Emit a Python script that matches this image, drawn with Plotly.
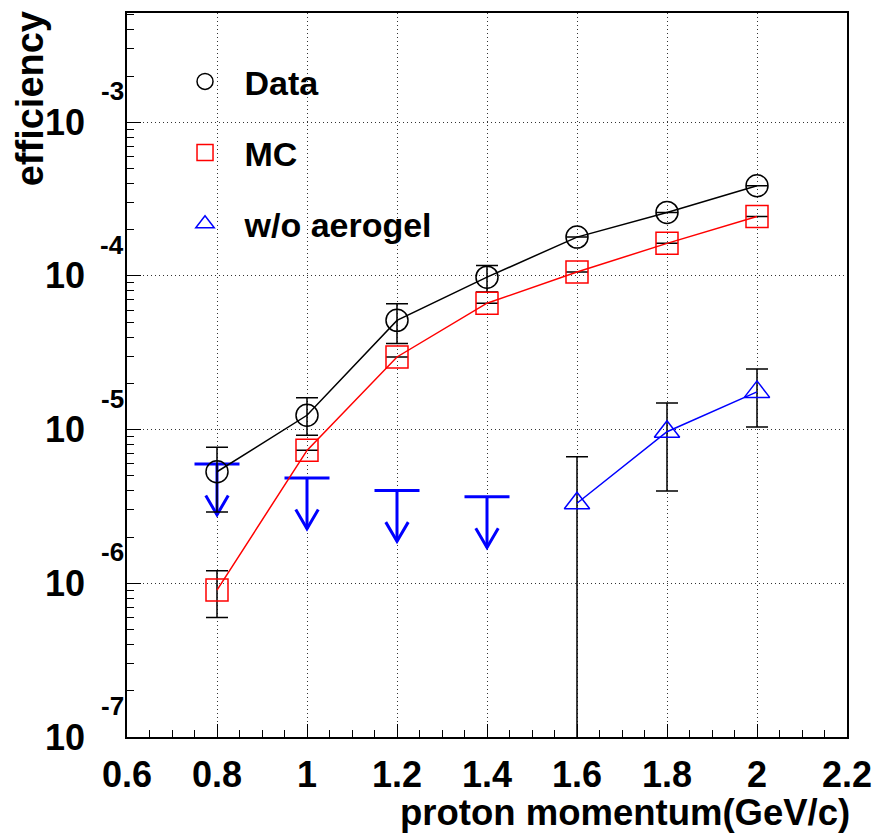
import plotly.graph_objects as go

# ---------------- data ----------------
momentum = [0.8, 1.0, 1.2, 1.4, 1.6, 1.8, 2.0]

data_eff = [5.32e-6, 1.24e-5, 5.14e-5, 9.82e-5, 1.79e-4, 2.59e-4, 3.86e-4]
data_hi = [7.69e-6, 1.61e-5, 6.59e-5, 1.17e-4, 1.79e-4, 2.59e-4, 3.86e-4]
data_lo = [2.91e-6, 9.2e-6, 3.63e-5, 7.85e-5, 1.79e-4, 2.59e-4, 3.86e-4]

mc_eff = [9.04e-7, 7.33e-6, 2.97e-5, 6.65e-5, 1.06e-4, 1.63e-4, 2.44e-4]
mc_hi = [1.205e-6, 7.33e-6, 2.97e-5, 6.65e-5, 1.06e-4, 1.63e-4, 2.44e-4]
mc_lo = [6.0e-7, 7.33e-6, 2.97e-5, 6.65e-5, 1.06e-4, 1.63e-4, 2.44e-4]

noaero_mom = [1.6, 1.8, 2.0]
noaero_eff = [3.32e-6, 9.69e-6, 1.76e-5]
noaero_hi = [6.65e-6, 1.49e-5, 2.48e-5]
noaero_lo = [1e-8, 3.99e-6, 1.04e-5]

ul_mom = [0.8, 1.0, 1.2, 1.4]
ul_eff = [5.97e-6, 4.84e-6, 4.01e-6, 3.66e-6]

x_ticks = [0.6, 0.8, 1.0, 1.2, 1.4, 1.6, 1.8, 2.0, 2.2]
x_ticktext = ["0.6", "0.8", "1", "1.2", "1.4", "1.6", "1.8", "2", "2.2"]
y_exponents = [-7, -6, -5, -4, -3]

legend_names = ["Data", "MC", "w/o aerogel"]

# ---------------- style ----------------
FONT = "Liberation Sans"
BLUE = "#0000ff"
RED = "#ff0000"
BLACK = "#000000"
MS = 22

def errs(vals, hi, lo):
    return [h - v for v, h in zip(vals, hi)], [v - l for v, l in zip(vals, lo)]

fig = go.Figure()

# upper-limit arrows (built from the limit values)
bar_half = 0.05
arrow_len = 10 ** -0.33
head_dx = 0.025
head_dy = 10 ** 0.125
ux, uy = [], []
for x, y in zip(ul_mom, ul_eff):
    tip = y * arrow_len
    ux += [x - bar_half, x + bar_half, None, x, x, None,
           x - head_dx, x, x + head_dx, None]
    uy += [y, y, None, y, tip, None, tip * head_dy, tip, tip * head_dy, None]
fig.add_trace(go.Scatter(x=ux, y=uy, mode="lines",
                         line=dict(color=BLUE, width=3),
                         showlegend=False, hoverinfo="skip"))

ep, em = errs(data_eff, data_hi, data_lo)
fig.add_trace(go.Scatter(
    x=momentum, y=data_eff, mode="lines+markers",
    line=dict(color=BLACK, width=1.5),
    marker=dict(symbol="circle-open", size=MS, color=BLACK, line=dict(width=1.5)),
    error_y=dict(type="data", array=ep, arrayminus=em, color=BLACK,
                 thickness=1.5, width=11),
    showlegend=False))

ep, em = errs(mc_eff, mc_hi, mc_lo)
fig.add_trace(go.Scatter(
    x=momentum, y=mc_eff, mode="lines+markers",
    line=dict(color=RED, width=1.5),
    marker=dict(symbol="square-open", size=MS, color=RED, line=dict(width=1.5)),
    error_y=dict(type="data", array=ep, arrayminus=em, color=BLACK,
                 thickness=1.5, width=11),
    showlegend=False))

ep, em = errs(noaero_eff, noaero_hi, noaero_lo)
fig.add_trace(go.Scatter(
    x=noaero_mom, y=noaero_eff, mode="lines+markers",
    line=dict(color=BLUE, width=1.5),
    marker=dict(symbol="triangle-up-open", size=MS, color=BLUE, line=dict(width=1.5)),
    error_y=dict(type="data", array=ep, arrayminus=em, color=BLACK,
                 thickness=1.5, width=11),
    showlegend=False))

# legend entries (markers only)
for name, sym, col in zip(legend_names,
                          ["circle-open", "square-open", "triangle-up-open"],
                          [BLACK, RED, BLUE]):
    fig.add_trace(go.Scatter(x=[None], y=[None], mode="markers", name=name,
                             legendgroup=name,
                             marker=dict(symbol=sym, size=MS, color=col,
                                         line=dict(width=1.5))))

grid = dict(showgrid=True, gridcolor="#333333", gridwidth=1, griddash="1px,3px")

fig.update_xaxes(
    range=[0.6, 2.2], tickvals=x_ticks, ticktext=x_ticktext,
    ticks="inside", ticklen=13, tickwidth=1, tickcolor=BLACK,
    minor=dict(dtick=0.05, ticks="inside", ticklen=7, tickcolor=BLACK, showgrid=False),
    showline=True, linecolor=BLACK, linewidth=1.5, mirror=True,
    zeroline=False, tickfont=dict(family=FONT, size=36, color=BLACK, weight="bold"),
    ticklabelstandoff=5, **grid)

fig.update_yaxes(
    type="log", range=[-7, -2.289], dtick=1,
    ticks="inside", ticklen=14, tickwidth=1, tickcolor=BLACK,
    minor=dict(dtick="D1", ticks="inside", ticklen=7, tickcolor=BLACK, showgrid=False),
    showline=True, linecolor=BLACK, linewidth=1.5, mirror=True,
    zeroline=False, showticklabels=False, **grid)

annotations = []
for k in y_exponents:
    annotations.append(dict(text="10", x=0, xref="paper", y=k, yref="y",
                            xanchor="right", yanchor="middle", xshift=-40,
                            showarrow=False,
                            font=dict(family=FONT, size=36, color=BLACK, weight="bold")))
    annotations.append(dict(text="-%d" % (-k), x=0, xref="paper", y=k, yref="y",
                            xanchor="right", yanchor="middle", xshift=-1, yshift=31,
                            showarrow=False,
                            font=dict(family=FONT, size=26, color=BLACK, weight="bold")))

annotations.append(dict(text="efficiency", x=-0.135, xref="paper", y=1, yref="paper",
                        xanchor="center", yanchor="top", yshift=4, textangle=-90,
                        showarrow=False,
                        font=dict(family=FONT, size=38, color=BLACK, weight="bold")))
annotations.append(dict(text="proton momentum(GeV/c)", x=1, xref="paper", y=-0.104,
                        yref="paper", xanchor="right", yanchor="middle", xshift=5,
                        showarrow=False,
                        font=dict(family=FONT, size=36.5, color=BLACK, weight="bold")))

fig.update_layout(
    width=883, height=833,
    margin=dict(l=127, r=31, t=11, b=96, pad=0),
    paper_bgcolor="white", plot_bgcolor="white",
    annotations=annotations,
    legend=dict(x=0.0535, y=0.945, xanchor="left", yanchor="top",
                font=dict(family=FONT, size=34, color=BLACK, weight="bold"),
                bgcolor="rgba(0,0,0,0)", borderwidth=0,
                itemwidth=69, tracegroupgap=24),
)

fig.write_html("out.html")
